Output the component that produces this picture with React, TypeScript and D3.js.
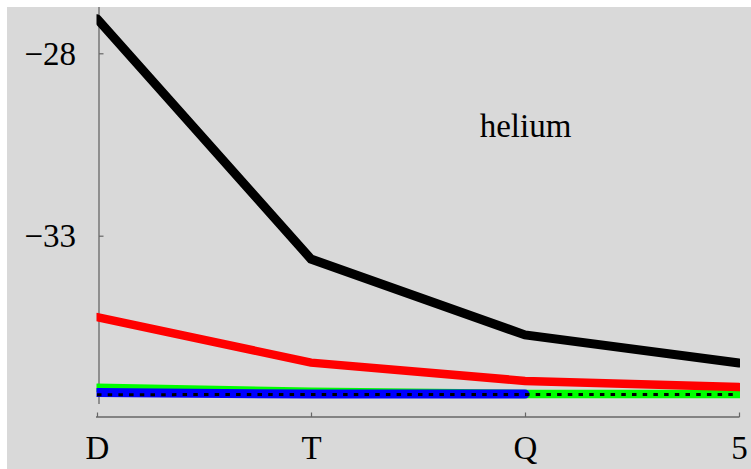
import React, { useEffect, useRef } from "react";
import * as d3 from "d3";

// categories along the x axis
const categories = ["D", "T", "Q", "5"];
// y tick values
const yTicks = [-28, -33];

const blackValues = [-27.05, -33.64, -35.72, -36.49];
const redValues = [-35.23, -36.48, -36.98, -37.15];
const greenValues = [-37.17, -37.28, -37.34, -37.34];
const blueValues = [-37.3, -37.34, -37.34];
const dottedValues = [-37.36, -37.35, -37.35, -37.35];

const series = [
  { name: "green", values: greenValues, color: "#00ff00", width: 8.5, dash: null },
  { name: "blue", values: blueValues, color: "#0000ff", width: 9, dash: null },
  { name: "dotted", values: dottedValues, color: "#000000", width: 3, dash: "4.5 6.2" },
  { name: "red", values: redValues, color: "#ff0000", width: 8.5, dash: null },
  { name: "black", values: blackValues, color: "#000000", width: 9, dash: null },
];

const W = 751, H = 469;

export default function App() {
  const ref = useRef<SVGGElement | null>(null);

  useEffect(() => {
    const g = d3.select(ref.current);
    g.selectAll("*").remove();

    const x = d3.scalePoint<string>().domain(categories).range([97, 739]);
    const y = d3.scaleLinear().domain([-28, -33]).range([53.3, 235.7]);
    const axisColor = "#666666";
    const font = "'Liberation Serif', 'Times New Roman', serif";

    // clip for plot lines
    g.append("defs").append("clipPath").attr("id", "plotClip")
      .append("rect").attr("x", 96.5).attr("y", 7).attr("width", 740 - 96.5).attr("height", H - 7);

    // y axis
    g.append("line")
      .attr("x1", 99).attr("x2", 99).attr("y1", 7).attr("y2", 404)
      .attr("stroke", axisColor).attr("stroke-width", 1.3);
    const yAxis = g.append("g").attr("transform", "translate(99,0)")
      .call(d3.axisLeft(y).tickValues(yTicks).tickSizeInner(-4.5).tickSizeOuter(0).tickPadding(23)
        .tickFormat(d3.format("d")));
    yAxis.select(".domain").remove();
    yAxis.selectAll(".tick line").attr("stroke", axisColor).attr("stroke-width", 1.2);
    yAxis.selectAll(".tick text")
      .attr("font-family", font).attr("font-size", 33).attr("fill", "#000")
      .attr("dy", "0.33em");

    // x axis
    g.append("line")
      .attr("x1", 96).attr("x2", 739.5).attr("y1", 417).attr("y2", 417)
      .attr("stroke", axisColor).attr("stroke-width", 1.3);
    const xAxis = g.append("g").attr("transform", "translate(0,417)")
      .call(d3.axisBottom(x).tickSizeInner(-4.5).tickSizeOuter(0).tickPadding(18.5));
    xAxis.select(".domain").remove();
    xAxis.selectAll(".tick line").attr("stroke", axisColor).attr("stroke-width", 1.2);
    xAxis.selectAll(".tick text")
      .attr("font-family", font).attr("font-size", 33).attr("fill", "#000");

    // series lines
    const line = d3.line<number>()
      .x((_, i) => x(categories[i]) as number)
      .y((d) => y(d));

    const lines = g.append("g").attr("clip-path", "url(#plotClip)");
    series.forEach((s) => {
      lines.append("path")
        .attr("d", line(s.values))
        .attr("fill", "none")
        .attr("stroke", s.color)
        .attr("stroke-width", s.width)
        .attr("stroke-linecap", s.dash ? "butt" : "round")
        .attr("stroke-linejoin", "miter")
        .attr("stroke-dasharray", s.dash);
    });

    // label
    g.append("text")
      .attr("x", 525.5).attr("y", 136.7)
      .attr("text-anchor", "middle")
      .attr("font-family", font).attr("font-size", 33)
      .attr("fill", "#000")
      .text("helium");
  }, []);

  return (
    <svg width={W} height={H} style={{ position: "absolute", left: 0, top: 0 }}>
      <rect x={7} y={7} width={W - 7} height={H - 7} fill="#d9d9d9" />
      <g ref={ref}></g>
    </svg>
  );
}
